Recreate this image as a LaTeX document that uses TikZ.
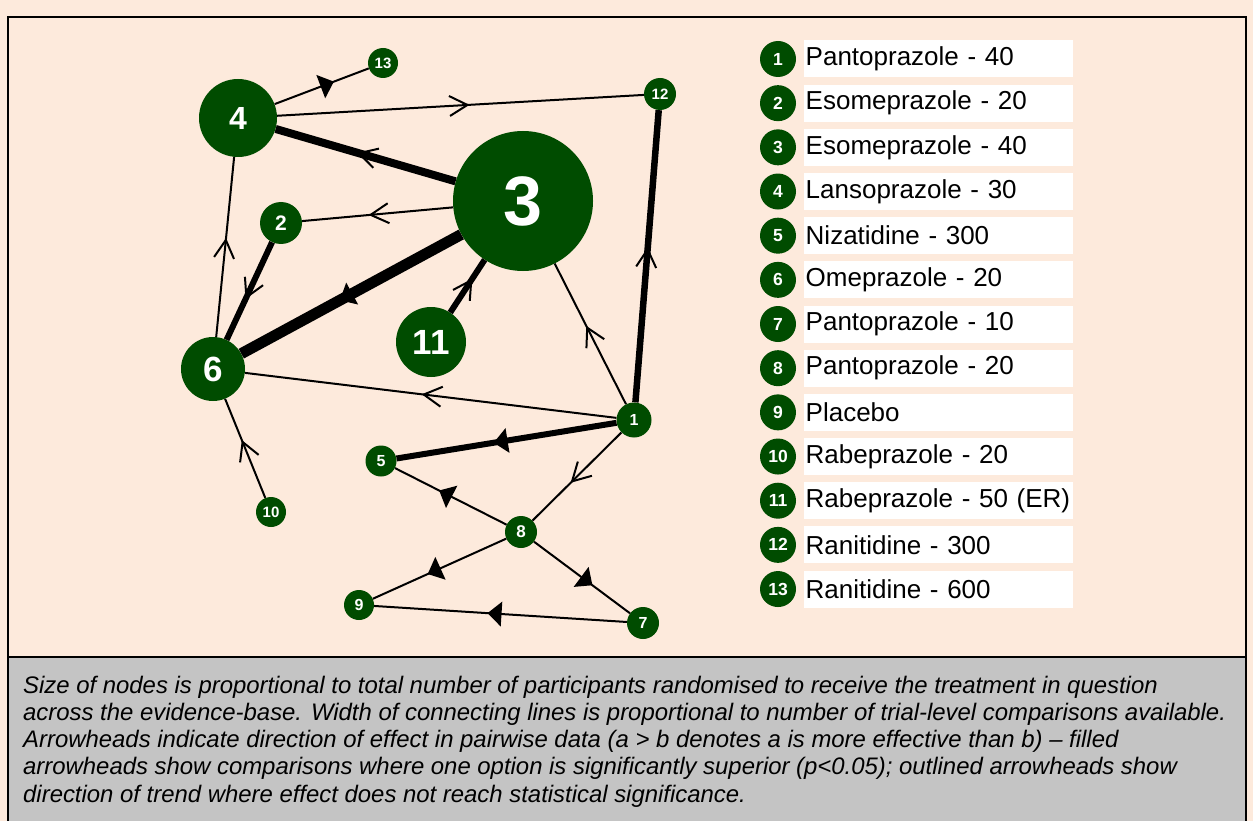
\documentclass[tikz,border=0pt]{standalone}
\usepackage{fontspec}
\setmainfont{Liberation Sans}
\usetikzlibrary{decorations.markings}

\definecolor{peach}{RGB}{253,234,220}
\definecolor{capgray}{RGB}{196,196,196}
\definecolor{nodegreen}{RGB}{0,76,0}

\tikzset{
  tnode/.style={circle, fill=nodegreen, inner sep=0pt, text=white,
    minimum size=#1},
  conn/.style={draw=black, line width=#1},
  conn/.default=2pt,
  % filled arrowhead: significant direction
  fillhead/.style={postaction={decorate}, decoration={markings,
    mark=at position 0.5 with {\fill[black] (-1,-12.5) -- (13,0) -- (-1,12.5) -- cycle;}}},
  % outlined arrowhead: trend only
  openhead/.style={postaction={decorate}, decoration={markings,
    mark=at position 0.5 with {\draw[black, line width=2pt, line join=miter, line cap=butt] (-11,-10) -- (7,0) -- (-11,10);}}},
  legnum/.style={circle, fill=nodegreen, inner sep=0pt, text=white,
    minimum size=36pt, font=\bfseries\fontsize{17.5}{19}\selectfont},
  legbox/.style={fill=white, anchor=west, inner xsep=1.5pt, inner ysep=0pt,
    minimum height=37pt, text width=266pt, align=left,
    font=\fontsize{26}{29}\selectfont},
  capline/.style={anchor=base west, inner sep=0pt,
    font=\itshape\fontsize{23.9}{27}\selectfont}
}

\begin{document}
\begin{tikzpicture}[x=1pt, y=-1pt]
\useasboundingbox (0,0) rectangle (1253,821);
\fill[peach] (0,0) rectangle (1253,821);

% caption band and frame
\fill[capgray] (9,657) rectangle (1246,830);
\draw[line width=1.2pt] (8,657) -- (1246,657);
\draw[line width=2.4pt] (8,840) -- (8,17) -- (1246,17) -- (1246,840);

% treatment nodes
\node[tnode=78pt, font=\bfseries\fontsize{32}{36}\selectfont] (n4) at (238,118) {4};
\node[tnode=30pt, font=\bfseries\fontsize{15}{17}\selectfont] (n13) at (383,63) {13};
\node[tnode=32pt, font=\bfseries\fontsize{15}{17}\selectfont] (n12) at (660,94) {12};
\node[tnode=140pt, font=\bfseries\fontsize{70}{80}\selectfont] (n3) at (523,201) {3};
\node[tnode=42pt, font=\bfseries\fontsize{21}{24}\selectfont] (n2) at (281,223) {2};
\node[tnode=70pt, font=\bfseries\fontsize{35}{40}\selectfont] (n11) at (431,342) {11};
\node[tnode=64pt, font=\bfseries\fontsize{35}{40}\selectfont] (n6) at (213,369) {6};
\node[tnode=35pt, font=\bfseries\fontsize{16}{18}\selectfont] (n1) at (634,420) {1};
\node[tnode=31pt, font=\bfseries\fontsize{16}{18}\selectfont] (n5) at (381,461) {5};
\node[tnode=32pt, font=\bfseries\fontsize{17}{19}\selectfont] (n8) at (521,532) {8};
\node[tnode=30pt, font=\bfseries\fontsize{16}{18}\selectfont] (n9) at (359,605) {9};
\node[tnode=32pt, font=\bfseries\fontsize{16}{18}\selectfont] (n7) at (643,623) {7};
\node[tnode=30pt, font=\bfseries\fontsize{15}{17}\selectfont] (n10) at (271,512) {10};

% comparisons (arrow points to the less effective option)
\draw[conn, fillhead] (n4) -- (n13);
\draw[conn, openhead] (n4) -- (n12);
\draw[conn=8pt, openhead] (n3) -- (n4);
\draw[conn, openhead] (n3) -- (n2);
\draw[conn, openhead] (n6) -- (n4);
\draw[conn=6pt, openhead] (n2) -- (n6);
\draw[conn=11pt, fillhead] (n3) -- (n6);
\draw[conn=6pt, openhead] (n11) -- (n3);
\draw[conn, openhead] (n1) -- (n3);
\draw[conn=6.5pt, openhead] (n1) -- (n12);
\draw[conn, openhead] (n1) -- (n6);
\draw[conn=6pt, fillhead] (n1) -- (n5);
\draw[conn, openhead] (n1) -- (n8);
\draw[conn, fillhead] (n8) -- (n5);
\draw[conn, fillhead] (n8) -- (n9);
\draw[conn, fillhead] (n8) -- (n7);
\draw[conn, fillhead] (n7) -- (n9);
\draw[conn, openhead] (n10) -- (n6);

% legend
\foreach \i/\t in {1/Pantoprazole - 40, 2/Esomeprazole - 20, 3/Esomeprazole - 40,
  4/Lansoprazole - 30, 5/Nizatidine - 300, 6/Omeprazole - 20, 7/Pantoprazole - 10,
  8/Pantoprazole - 20, 9/Placebo, 10/Rabeprazole - 20, 11/Rabeprazole - 50 (ER),
  12/Ranitidine - 300, 13/Ranitidine - 600} {
  \pgfmathsetmacro{\yy}{59 + 44.17*(\i-1)}
  \node[legnum] (l\i) at (778,\yy) {\i};
  \node[legbox] (b\i) at (804,\yy) {\t};
}

% caption
\node[capline] (c1) at (23,693) {Size of nodes is proportional to total number of participants randomised to receive the treatment in question};
\node[capline] (c2) at (23,720.3) {across the evidence-base. Width of connecting lines is proportional to number of trial-level comparisons available.};
\node[capline] (c3) at (23,747.6) {Arrowheads indicate direction of effect in pairwise data (a > b denotes a is more effective than b) – filled};
\node[capline] (c4) at (23,774.9) {arrowheads show comparisons where one option is significantly superior (p<0.05); outlined arrowheads show};
\node[capline] (c5) at (23,802.2) {direction of trend where effect does not reach statistical significance.};
\end{tikzpicture}
\end{document}
